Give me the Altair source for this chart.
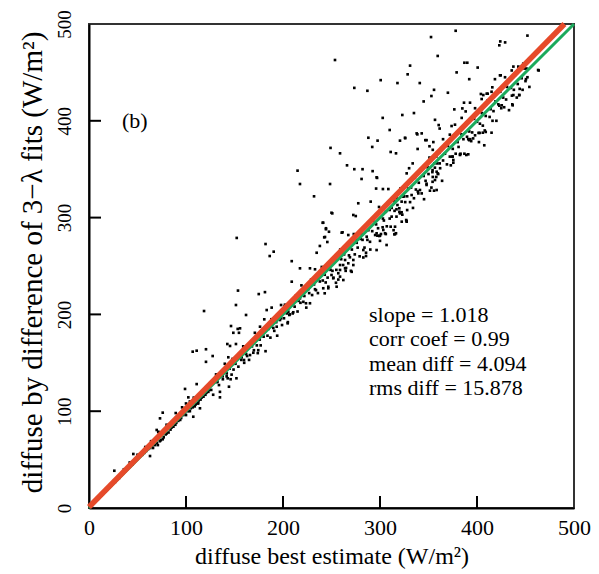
import altair as alt
import pandas as pd

# ---- measurements: (diffuse best estimate, diffuse by difference of 3-lambda fits), W/m^2 ----
band_low = [
    (3, 3), (6, 7), (9, 9), (11, 12), (13, 13), (15, 16), (17, 17), (19, 20), (21, 21), (23, 24),
    (25, 26), (27, 27), (29, 30), (31, 31), (33, 34), (35, 36), (37, 38), (39, 40), (41, 42), (43, 44),
    (45, 45), (47, 48), (49, 51), (51, 52), (53, 54), (55, 55), (57, 57), (59, 59), (61, 61), (63, 62),
    (65, 64), (66, 62), (68, 65), (70, 67), (71, 65), (73, 69), (74, 70), (76, 71), (77, 73), (79, 76),
    (80, 77), (82, 78), (84, 81), (85, 83), (87, 84), (89, 86), (90, 88), (92, 90), (94, 91), (95, 93),
    (97, 96), (99, 97), (100, 96), (102, 100), (104, 100), (105, 103), (107, 104), (109, 105), (110, 107),
    (112, 108), (113, 111), (115, 112), (116, 114), (118, 115), (120, 117), (121, 119), (123, 120), (124, 122),
    (36, 40), (42, 47), (50, 55), (58, 63), (64, 69), (72, 78), (80, 86), (96, 104), (100, 108), (104, 110),
    (108, 114),
]

band_mid = [
    (126, 122), (128, 117), (129, 130), (131, 138), (132, 130), (134, 127), (135, 120), (137, 137),
    (138, 133), (140, 149), (142, 139), (143, 134), (145, 144), (146, 133), (148, 154), (149, 143),
    (151, 149), (152, 134), (154, 146), (156, 159), (157, 153), (159, 167), (160, 150), (162, 159),
    (163, 157), (165, 153), (166, 168), (168, 167), (170, 163), (171, 181), (173, 168), (174, 160),
    (176, 174), (177, 168), (179, 184), (180, 177), (182, 162), (184, 178), (185, 185), (187, 176),
    (188, 195), (190, 186), (191, 183), (193, 192), (194, 178), (196, 200), (198, 196), (199, 189),
    (201, 196), (202, 210), (204, 201), (205, 192), (207, 200), (208, 209), (210, 201), (212, 208),
    (213, 219), (215, 203), (216, 214), (218, 212), (219, 230), (221, 213), (222, 219), (224, 207),
    (226, 226), (227, 222), (229, 236), (230, 220), (232, 231), (233, 226), (235, 238), (236, 222),
    (238, 234), (240, 249), (241, 235), (243, 241), (244, 233), (246, 238), (247, 252), (249, 246),
]

band_high = [
    (251, 245), (252, 238), (254, 257), (255, 246), (257, 236), (259, 267), (260, 257), (262, 251),
    (263, 262), (265, 248), (266, 271), (268, 261), (270, 245), (271, 267), (273, 283), (274, 262),
    (276, 274), (277, 269), (279, 260), (281, 283), (282, 277), (284, 269), (285, 292), (287, 277),
    (288, 287), (290, 267), (292, 286), (293, 297), (295, 282), (296, 293), (298, 289), (299, 311),
    (301, 283), (303, 299), (304, 297), (306, 306), (307, 291), (309, 315), (310, 299), (312, 310),
    (314, 287), (315, 307), (317, 320), (318, 313), (320, 306), (321, 330), (323, 303), (325, 322),
    (326, 316), (328, 322), (329, 330), (331, 316), (332, 331), (334, 310), (336, 341), (337, 329),
    (339, 327), (340, 336), (342, 350), (343, 325), (345, 343), (347, 338), (348, 335), (350, 345),
    (351, 362), (353, 331), (354, 347), (356, 356), (358, 342), (359, 356), (361, 367), (362, 351),
    (364, 338), (365, 359), (367, 366), (369, 355), (370, 374), (372, 363), (373, 354), (375, 371),
    (376, 383), (378, 366), (380, 378), (381, 373), (383, 366), (384, 386), (386, 381), (387, 366),
    (389, 398), (391, 381), (392, 389), (394, 379), (395, 388), (397, 402), (398, 385), (400, 399),
    (402, 378), (403, 397), (405, 408), (406, 395), (408, 390), (409, 405), (411, 421), (413, 404),
    (414, 412), (416, 400), (417, 410), (419, 420), (420, 400), (422, 417), (424, 430), (425, 413),
    (427, 424), (428, 414), (430, 422), (431, 435), (433, 411), (435, 434), (436, 426), (438, 432),
    (439, 447), (441, 424), (442, 438), (444, 433), (446, 444), (447, 432), (449, 454), (450, 441),
    (452, 445), (454, 435),
]

scatter_low = [
    (106.9, 161.5), (111, 162.5), (120.6, 164), (127.5, 157), (120.6, 151), (142.6, 169.4),
    (145.4, 167.4), (151.5, 169.4), (143.6, 155.7), (157.4, 155.7), (159.8, 152.9), (166, 158),
    (169.4, 160.4), (174.5, 163), (144.3, 125.3), (135, 114.3), (111, 128), (99, 123), (102.4, 114.3),
    (137.8, 136), (141.9, 136), (147, 137.8), (132.3, 130.5), (76, 98.5), (89.4, 98.1), (73.2, 92.6),
    (69.8, 80.6), (71.4, 78.8), (45.7, 55.8), (62.9, 53.7), (26.1, 38.5), (112.7, 108.2), (114.4, 103),
    (107.5, 94.3), (146.4, 188), (154.6, 181), (148.8, 181), (155.7, 185.6),
]

scatter_mid = [
    (152.3, 279), (182, 272.7), (190.4, 264.8), (186.3, 260.3), (209, 255), (217.5, 247.6), (209, 233.8),
    (153.6, 224.6), (181.4, 223), (175, 221), (151.5, 209.7), (161.9, 199.4), (118.6, 203.5),
    (153.3, 185), (188.3, 207), (183.2, 204.5), (180.7, 194.9), (176.3, 187.3), (240.9, 294.7),
    (244.3, 288), (242.5, 279.6), (245.7, 274.8), (234.7, 263.7), (227.8, 247.6), (233, 246.6),
    (264, 256.2), (258.8, 251), (264.6, 245), (258.8, 239), (255.3, 228.6), (250, 240.7), (251.8, 237.3),
    (246.7, 227), (241.5, 227), (234, 225), (243, 221.8), (227.8, 211.5), (223.7, 211.5), (217.5, 216.6),
    (210.6, 202.2), (206.5, 199.4), (204.8, 190.8), (205.5, 202.8), (198, 209.7), (201.4, 208),
    (194.5, 196), (196.9, 194.2), (187.6, 187.3), (193.5, 187.3), (243.3, 280), (238, 270.7),
    (250.8, 304.4), (261.4, 284.8), (267.3, 282), (282.8, 266.5), (285.6, 263.7), (282.8, 258.8),
    (269, 259), (272.5, 256.2), (267.3, 252.8), (272.5, 251), (258.8, 245.9), (264, 247.6), (257, 242.5),
    (285.6, 260.3), (270.8, 244), (262.2, 235.5), (254.6, 232.7), (246.7, 228.6), (276, 276.9),
    (280, 278), (286.3, 280.3), (289.7, 275), (296.5, 266.5), (306.8, 271.7),
]

scatter_high = [
    (352.6, 486.5), (378, 493), (452, 488), (423, 478), (424, 482), (429, 481), (359.5, 467), (331, 457),
    (328.5, 448), (387, 460), (390, 460), (400.7, 455), (379, 450), (341, 439), (463.6, 452), (392, 443),
    (355.7, 432), (370, 429), (353, 425.6), (345, 420), (335, 408), (323, 406), (356.7, 401),
    (360.5, 395.6), (361.5, 392), (338.5, 386), (343, 387), (326, 382), (348, 380), (355, 378),
    (382.5, 364.7), (389, 364.7), (374.6, 363), (375.6, 356.7), (409, 388.5), (401.6, 387.5),
    (437.5, 426.6), (443.5, 426.6), (436.8, 416), (423, 415.6), (450.5, 443), (437.5, 456), (435.8, 452),
    (447.7, 459), (424.4, 447), (418.5, 443), (404, 427.7), (410, 428), (404.8, 422.5), (386.6, 418.7),
    (392.8, 418.7), (376.6, 411.8), (384.9, 412.8), (384.2, 403), (388.3, 409.7), (377.3, 396),
    (372, 385.7), (365, 381), (389.7, 383.5), (393, 381), (396, 381.8), (402.7, 387.5), (363, 370),
    (354.4, 370), (351, 373.7), (358, 363), (361.5, 356), (327.5, 345.7), (330, 351), (333.7, 356),
    (349, 352), (354.4, 342), (359.5, 345.6), (287, 431), (302.8, 403), (310, 390.5), (288, 382.5),
    (297.5, 379.5), (320.6, 379.5), (325.8, 382.5), (337.8, 387), (292, 373), (311, 367.8),
    (316.5, 366.4), (338.8, 370.9), (346.7, 380), (249, 372), (258.8, 366.4), (266, 354), (273.5, 350),
    (282, 350), (215, 348.5), (217.5, 334.7), (248.5, 334.7), (281, 339.9), (297, 341), (232, 322),
    (296, 330), (303, 329.5), (308.6, 329.5), (277.6, 314.8), (250, 305), (272.5, 302.7), (275, 301.6),
    (241.5, 294.7), (244.3, 289), (247.4, 285.4), (260.5, 284.4), (292.4, 348), (296.5, 341.6),
    (290.4, 316.5), (253.6, 462.8), (300.7, 442), (273.5, 434), (318, 439), (373.8, 394.6), (398, 413),
    (406.5, 426.6), (411, 428), (415.8, 434.6), (415, 430), (423.7, 447), (428.9, 445), (442.6, 456),
    (451, 454), (463, 452.5), (425.5, 416), (436.4, 417), (443.6, 426.6), (406, 387.7), (415, 387.7),
    (354.2, 337), (355.7, 327.8), (345.4, 319), (358.4, 328.5), (351.5, 327.8), (335, 320),
    (354.2, 349), (358.4, 347.4), (374.9, 363), (375.6, 359.5), (356.6, 351.6), (314.8, 317),
    (319.9, 309.6), (328, 307.8), (327, 297.5), (311, 290.6), (315.5, 290.6), (302.7, 290),
    (297.3, 281.3), (300, 281.3), (315.5, 283), (322.4, 295.8), (327.5, 295.8), (314.8, 282.7),
    (303.4, 287.2), (305.2, 283.8), (299.3, 281), (300, 276), (322.3, 316.5), (324, 321.6),
    (332.6, 323.3), (341.2, 328.5), (339.5, 325), (348, 333.7), (356.7, 338.8), (360, 345),
    (310, 307.9), (317, 308.6), (320.6, 304.4), (312, 301), (317, 301), (296.5, 283.8), (316.5, 283.8),
    (306, 283), (322.3, 305.5), (327.5, 296.5), (392, 380), (382.5, 365.4), (391, 365.4), (407.5, 374.7),
]

axis_values = [0, 100, 200, 300, 400, 500]
inner_ticks = [100, 200, 300, 400]

# least-squares fit reported in the panel
fit_slope = 1.018
fit_intercept = 1.0
stats_lines = ["slope = 1.018", "corr coef = 0.99", "mean diff = 4.094", "rms diff = 15.878"]
panel_tag = "(b)"

FONT = "Liberation Serif"
FS = 22
GREEN = "#1BAA5C"
RED = "#E64A2A"

groups = [band_low, band_mid, band_high, scatter_low, scatter_mid, scatter_high]
obs = pd.DataFrame([{"best": x, "fit": y} for g in groups for (x, y) in g])

xs = alt.Scale(domain=[0, 500], nice=False, zero=False)
ys = alt.Scale(domain=[0, 500], nice=False, zero=False)

# identical axis definitions are given to every layer so the merged axes keep them
x_axis = alt.Axis(
    values=axis_values, ticks=False, tickSize=0, labelPadding=9, labelFlush=False,
    labelOverlap=False, labelFontSize=22, title="diffuse best estimate (W/m²)",
    titleFontSize=24, titlePadding=6,
)
y_axis = alt.Axis(
    values=axis_values, ticks=False, tickSize=0, labelAngle=270, labelAlign="center",
    labelBaseline="alphabetic", labelPadding=19, labelFlush=False, labelOverlap=False,
    labelFontSize=19, title="diffuse by difference of 3−λ fits (W/m²)", titleFontSize=29,
    titleAngle=270, titleAlign="center", titleBaseline="alphabetic", titleX=-48, titleY=238,
)


def X(field):
    return alt.X(field, scale=xs, axis=x_axis)


def Y(field):
    return alt.Y(field, scale=ys, axis=y_axis)


points = alt.Chart(obs).mark_square(size=7, color="black", opacity=1).encode(
    x=X("best:Q"), y=Y("fit:Q")
)

one_to_one = alt.Chart(pd.DataFrame({"best": [0, 500], "fit": [0, 500]})).mark_line(
    color=GREEN, strokeWidth=3
).encode(x=X("best:Q"), y=Y("fit:Q"))

x_end = (500 - fit_intercept) / fit_slope
fit_df = pd.DataFrame({"best": [0, x_end], "fit": [fit_intercept, fit_slope * x_end + fit_intercept]})
fit_line = alt.Chart(fit_df).mark_line(color=RED, strokeWidth=5.5).encode(
    x=X("best:Q"), y=Y("fit:Q")
)

tick_df = pd.DataFrame({"best": inner_ticks, "fit": inner_ticks})
x_ticks = alt.Chart(tick_df).mark_rule(color="black", strokeWidth=2).encode(
    x=X("best:Q"), y=alt.value(484), y2=alt.value(472)
)
y_ticks = alt.Chart(tick_df).mark_rule(color="black", strokeWidth=2).encode(
    y=Y("fit:Q"), x=alt.value(0), x2=alt.value(12)
)

tag = alt.Chart(pd.DataFrame({"best": [34], "fit": [392.6], "t": [panel_tag]})).mark_text(
    font=FONT, fontSize=FS, align="left", baseline="alphabetic", color="black"
).encode(x=X("best:Q"), y=Y("fit:Q"), text="t:N")

stats = alt.Chart(pd.DataFrame({"best": [288.7], "fit": [192.5]})).mark_text(
    text=stats_lines, font=FONT, fontSize=FS, lineHeight=24.5, align="left",
    baseline="alphabetic", color="black"
).encode(x=X("best:Q"), y=Y("fit:Q"))

chart = alt.layer(points, one_to_one, fit_line, x_ticks, y_ticks, tag, stats).properties(
    width=485, height=484,
    autosize=alt.AutoSizeParams(type="none"),
    padding={"left": 89, "top": 24, "right": 25, "bottom": 66},
    background="white",
).configure_view(stroke="#333333", strokeWidth=2).configure_axis(
    grid=False, domainColor="black", domainWidth=2, labelFont=FONT, titleFont=FONT,
    labelColor="black", titleColor="black", titleFontWeight="normal",
)

chart.save("out.html", embed_options={"renderer": "svg", "actions": False})
